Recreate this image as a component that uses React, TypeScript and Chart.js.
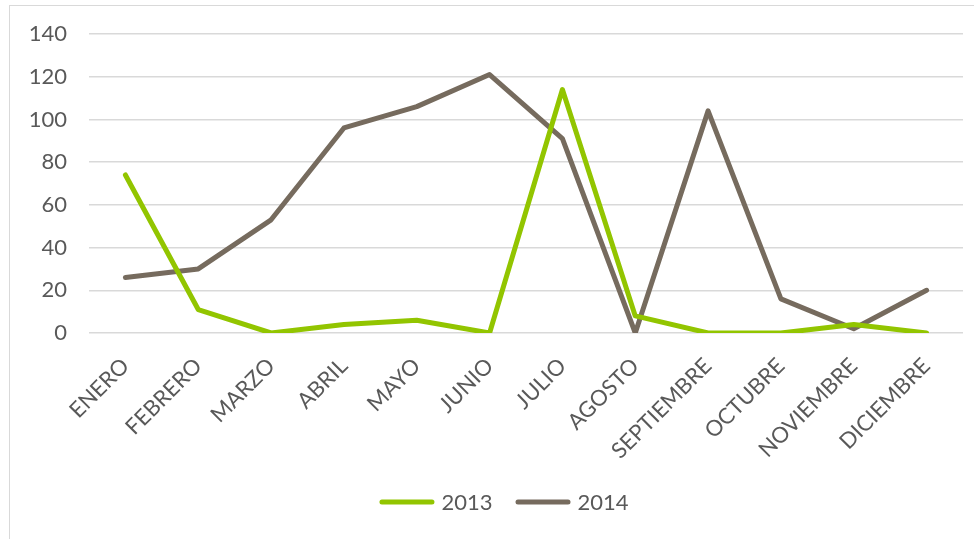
import React, { useEffect, useRef } from "react";
import { Chart, registerables } from "chart.js";

Chart.register(...registerables);

const months = [
  "ENERO", "FEBRERO", "MARZO", "ABRIL", "MAYO", "JUNIO",
  "JULIO", "AGOSTO", "SEPTIEMBRE", "OCTUBRE", "NOVIEMBRE", "DICIEMBRE",
];
const values2013 = [74, 11, 0, 4, 6, 0, 114, 8, 0, 0, 4, 0];
const values2014 = [26, 30, 53, 96, 106, 121, 91, 0, 104, 16, 2, 20];
const seriesNames = ["2013", "2014"];
const yMax = 140;
const yStep = 20;

const GREEN = "#92C500";
const BROWN = "#766B5E";
const TEXT = "#595959";
const GRID = "#D9D9D9";
const FONT = "Lato, 'Open Sans', sans-serif";

// custom legend drawn below the plot, centred slightly right of canvas centre
const legendPlugin = {
  id: "customLegend",
  afterDraw(chart: any) {
    const ctx = chart.ctx as CanvasRenderingContext2D;
    const lineLen = 50;
    const gapText = 7;
    const gapItem = 23;
    const y = chart.height - 37;
    ctx.save();
    ctx.font = `22px ${FONT}`;
    ctx.textBaseline = "middle";
    ctx.textAlign = "left";
    const items = chart.data.datasets.map((ds: any) => ({
      label: ds.label as string,
      color: ds.borderColor as string,
      w: ctx.measureText(ds.label).width,
    }));
    let total = 0;
    items.forEach((it: any, i: number) => {
      total += lineLen + 5 + gapText + it.w + (i < items.length - 1 ? gapItem : 0);
    });
    let x = chart.width / 2 + 12 - total / 2;
    items.forEach((it: any) => {
      ctx.strokeStyle = it.color;
      ctx.lineWidth = 5;
      ctx.lineCap = "round";
      ctx.beginPath();
      ctx.moveTo(x + 2.5, y);
      ctx.lineTo(x + 2.5 + lineLen, y);
      ctx.stroke();
      x += lineLen + 5 + gapText;
      ctx.fillStyle = TEXT;
      ctx.fillText(it.label, x, y + 1);
      x += it.w + gapItem;
    });
    ctx.restore();
  },
};

export default function App() {
  const ref = useRef<HTMLCanvasElement | null>(null);

  useEffect(() => {
    document.body.style.margin = "0";
    document.body.style.overflow = "hidden";
    const canvas = ref.current;
    if (!canvas) return;
    const chart = new Chart(canvas, {
      type: "line",
      data: {
        labels: months,
        datasets: [
          {
            label: seriesNames[0],
            data: values2013,
            borderColor: GREEN,
            backgroundColor: GREEN,
            borderWidth: 5,
            pointRadius: 0,
            tension: 0,
            borderJoinStyle: "round",
            borderCapStyle: "round",
          },
          {
            label: seriesNames[1],
            data: values2014,
            borderColor: BROWN,
            backgroundColor: BROWN,
            borderWidth: 5,
            pointRadius: 0,
            tension: 0,
            borderJoinStyle: "round",
            borderCapStyle: "round",
          },
        ],
      },
      plugins: [legendPlugin],
      options: {
        responsive: false,
        animation: false,
        layout: { padding: { left: 0, right: 11, top: 28, bottom: 56 } },
        plugins: {
          tooltip: { enabled: false },
          legend: { display: false },
        },
        scales: {
          x: {
            offset: true,
            grid: { display: false, drawTicks: false },
            border: { display: false },
            ticks: {
              color: TEXT,
              font: { family: FONT, size: 22 },
              minRotation: 45,
              maxRotation: 45,
              padding: 20,
              autoSkip: false,
            },
            afterFit: (s: any) => {
              s.height = 150;
              s.paddingLeft = 0;
              s.paddingRight = 0;
            },
          },
          y: {
            min: 0,
            max: yMax,
            grid: { color: GRID, lineWidth: 1.5, drawTicks: false },
            border: { display: false },
            ticks: {
              stepSize: yStep,
              color: TEXT,
              font: { family: FONT, size: 22 },
              padding: 22,
            },
            afterFit: (s: any) => {
              s.width = 79;
              s.paddingTop = 0;
              s.paddingBottom = 0;
            },
          },
        },
      },
    });
    return () => chart.destroy();
  }, []);

  return (
    <div
      style={{
        position: "fixed",
        left: 9,
        top: 5,
        width: 965,
        height: 534,
        borderLeft: "1.5px solid #D9D9D9",
        borderTop: "1.5px solid #D9D9D9",
        background: "#fff",
      }}
    >
      <canvas
        ref={ref}
        width={964}
        height={533}
        style={{ position: "absolute", left: 0, top: 0, width: 964, height: 533 }}
      />
    </div>
  );
}
